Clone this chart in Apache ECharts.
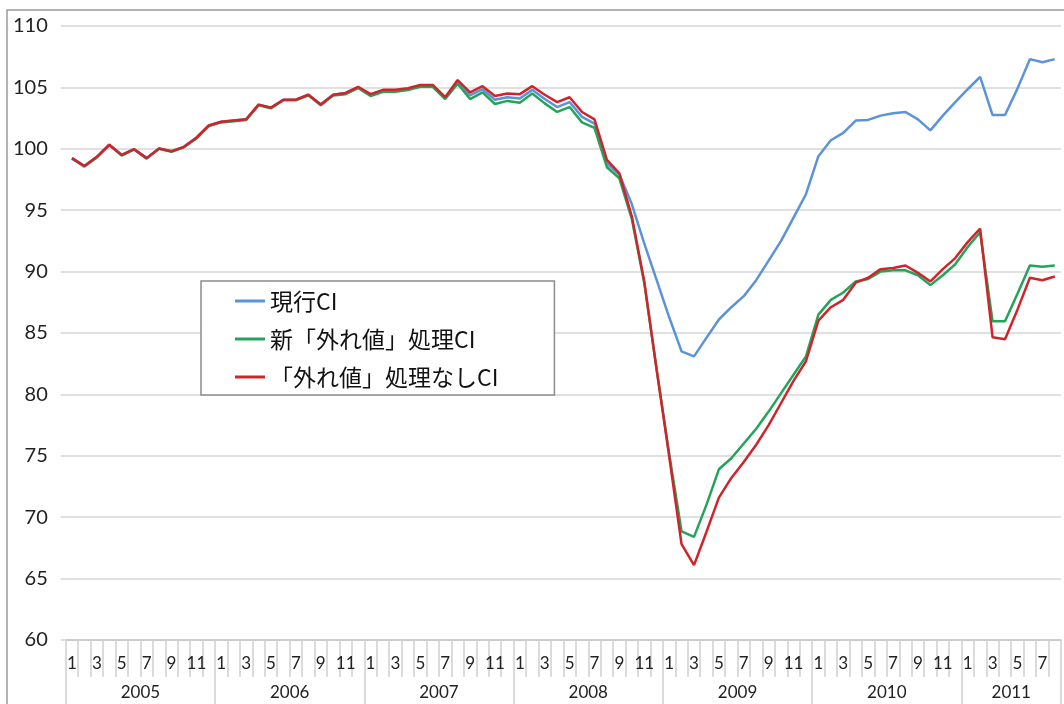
<!DOCTYPE html>
<html>
<head>
<meta charset="utf-8">
<script src="https://cdn.jsdelivr.net/npm/echarts@6/dist/echarts.min.js"></script>
<style>
html,body{margin:0;padding:0;background:#fff;}
#c{width:1064px;height:704px;}
</style>
</head>
<body>
<div id="c"></div>
<script>
// ---- data ----
const years = ['2005','2006','2007','2008','2009','2010','2011'];
const monthsPerYear = [12,12,12,12,12,12,8];
const seriesNames = ['現行CI','新「外れ値」処理CI','「外れ値」処理なしCI'];
const yTicks = {min:60, max:110, interval:5};

// 現行CI (blue)
const currentCI = [
 99.24,98.6,99.35,100.33,99.5,99.97,99.24,100.03,99.8,100.16,100.9,101.9,
 102.2,102.3,102.4,103.6,103.35,104.0,104.0,104.4,103.6,104.4,104.55,105.0,
 104.4,104.75,104.75,104.88,105.15,105.15,104.15,105.45,104.35,104.85,104.0,104.2,
 104.1,104.8,104.05,103.4,103.8,102.6,102.05,98.8,97.9,95.5,92.3,89.3,
 86.3,83.5,83.1,84.6,86.1,87.1,88.0,89.3,90.9,92.5,94.4,96.3,
 99.4,100.7,101.3,102.3,102.35,102.7,102.9,103.0,102.4,101.5,102.7,103.8,
 104.85,105.85,102.75,102.75,104.9,107.3,107.05,107.3
];
// 新「外れ値」処理CI (green)
const newOutlierCI = [
 99.2,98.55,99.3,100.3,99.45,99.95,99.2,100.0,99.75,100.12,100.85,101.85,
 102.15,102.25,102.35,103.55,103.3,103.95,103.95,104.35,103.55,104.35,104.45,104.95,
 104.3,104.65,104.65,104.78,105.05,105.05,104.05,105.3,104.05,104.6,103.65,103.9,
 103.75,104.5,103.7,103.0,103.4,102.15,101.7,98.5,97.6,94.3,89.1,82.0,
 75.2,68.85,68.4,71.0,73.9,74.8,76.0,77.2,78.6,80.1,81.6,83.1,
 86.5,87.7,88.3,89.2,89.4,90.0,90.1,90.1,89.7,88.9,89.7,90.6,
 92.0,93.2,85.95,85.95,88.2,90.5,90.4,90.5
];
// 「外れ値」処理なしCI (red)
const noOutlierCI = [
 99.24,98.6,99.35,100.33,99.5,99.97,99.24,100.03,99.8,100.16,100.9,101.9,
 102.2,102.3,102.4,103.6,103.35,104.0,104.0,104.4,103.6,104.4,104.55,105.05,
 104.45,104.8,104.8,104.93,105.2,105.2,104.2,105.6,104.6,105.1,104.3,104.5,
 104.45,105.1,104.4,103.8,104.2,103.0,102.4,99.1,98.0,94.5,89.2,82.0,
 75.0,67.8,66.1,68.8,71.6,73.2,74.5,75.9,77.5,79.3,81.1,82.7,
 86.0,87.1,87.7,89.1,89.5,90.2,90.3,90.5,89.9,89.2,90.2,91.1,
 92.4,93.5,84.65,84.5,86.9,89.5,89.3,89.6
];

// ---- axis tables built from the arrays ----
const categories = [];
years.forEach((y, k) => { for (let m = 1; m <= monthsPerYear[k]; m++) categories.push(y + '/' + m); });
const N = categories.length;
const yearSlots = new Array(N + 1).fill('');
const boundaries = new Set([0]);
let start = 0;
years.forEach((y, k) => {
  yearSlots[start + monthsPerYear[k] / 2] = y;
  start += monthsPerYear[k];
  boundaries.add(start);
});

const chart = echarts.init(document.getElementById('c'), null, {renderer:'canvas'});
const gridCol = '#d6d6d6';
chart.setOption({
  backgroundColor:'#ffffff',
  animation:false,
  color:['#5b93d8','#24a35a','#d0242b'],
  graphic:[{
    type:'rect', z:-1, silent:true,
    shape:{x:7, y:10, width:1200, height:900},
    style:{fill:'none', stroke:'#9a9a9a', lineWidth:1.5}
  }],
  grid:{left:65.75, top:26, width:1000, height:614, containLabel:false},
  legend:{
    orient:'vertical', left:201, top:281,
    data:seriesNames,
    icon:'rect',
    backgroundColor:'#ffffff',
    borderColor:'#8c8c8c', borderWidth:1.5, borderRadius:0,
    padding:[8,56,6,34],
    itemWidth:30, itemHeight:3, itemGap:14,
    textStyle:{fontFamily:'"Noto Sans CJK JP", sans-serif', fontSize:23, lineHeight:24, color:'#111'}
  },
  xAxis:[{
    type:'category', data:categories, boundaryGap:true, position:'bottom',
    axisLine:{show:true, lineStyle:{color:'#c4c4c4', width:1.5}},
    axisTick:{show:true, interval:0, alignWithLabel:false, length:37, lineStyle:{color:'#cfcfcf', width:1.5}},
    axisLabel:{
      interval:(idx) => idx % 2 === 0,
      formatter:(v) => v.split('/')[1],
      margin:15, fontSize:17, fontFamily:'Lato, "Open Sans", sans-serif', color:'#222'
    },
    splitLine:{show:false}
  },{
    type:'category', data:yearSlots, boundaryGap:false, position:'bottom', offset:0,
    axisLine:{show:false},
    axisTick:{show:true, interval:(idx) => boundaries.has(idx), length:66, lineStyle:{color:'#cfcfcf', width:1.5}},
    axisLabel:{interval:0, margin:44, fontSize:17, fontFamily:'Lato, "Open Sans", sans-serif', color:'#222'},
    splitLine:{show:false}
  }],
  yAxis:{
    type:'value', min:yTicks.min, max:yTicks.max, interval:yTicks.interval,
    axisLine:{show:false},
    axisTick:{show:true, length:5, lineStyle:{color:gridCol, width:1.5}},
    axisLabel:{margin:18, fontSize:20, fontFamily:'Lato, "Open Sans", sans-serif', color:'#222'},
    splitLine:{show:true, lineStyle:{color:gridCol, width:1.5}}
  },
  series:[
    {name:seriesNames[0], type:'line', data:currentCI, symbol:'none', lineStyle:{width:2.5}, z:2},
    {name:seriesNames[1], type:'line', data:newOutlierCI, symbol:'none', lineStyle:{width:2.5}, z:3},
    {name:seriesNames[2], type:'line', data:noOutlierCI, symbol:'none', lineStyle:{width:2.5}, z:4}
  ]
});
</script>
</body>
</html>
